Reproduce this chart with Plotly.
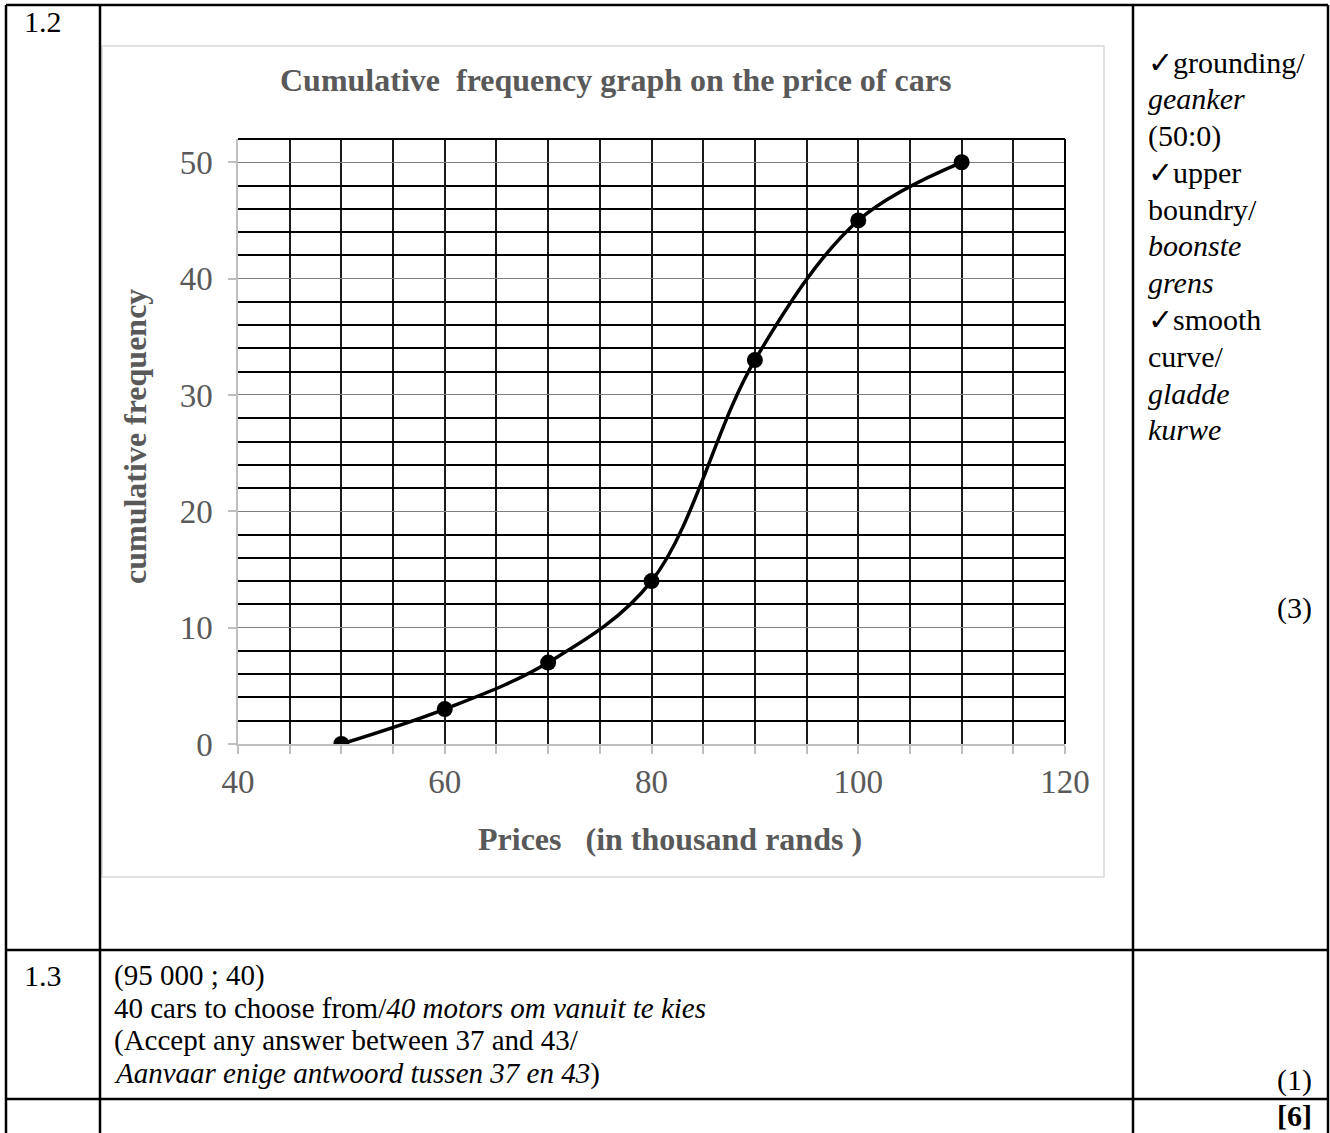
import plotly.graph_objects as go

# ---- data ----
prices = [50, 60, 70, 80, 90, 100, 110]
cum_freq = [0, 3, 7, 14, 33, 45, 50]
x_range = [40, 120]
y_range = [0, 52]

chart_title = "Cumulative\u00a0 frequency graph on the price of cars"
x_title = "Prices\u00a0\u00a0 (in thousand rands )"
y_title = "cumulative frequency"

marks_lines = ["\u2713grounding/", "<i>geanker</i>", "(50:0)", "\u2713upper", "boundry/",
               "<i>boonste</i>", "<i>grens</i>", "\u2713smooth", "curve/", "<i>gladde</i>", "<i>kurwe</i>"]
answer_lines = ["(95 000 ; 40)",
                "40 cars to choose from/<i>40 motors om vanuit te kies</i>",
                "(Accept any answer between 37 and 43/",
                "<i>Aanvaar enige antwoord tussen 37 en 43</i>)"]

W, H = 1330, 1133
def px(x): return x / W
def py(y): return 1 - y / H

SERIF = "Liberation Serif, Times New Roman, serif"
GRAY_TXT = "#595959"

fig = go.Figure()
fig.add_trace(go.Scatter(
    x=prices, y=cum_freq, mode="lines+markers",
    line=dict(color="black", width=3.5, shape="spline", smoothing=1.0),
    marker=dict(color="black", size=16),
    showlegend=False, hoverinfo="skip"))

fig.update_layout(
    width=W, height=H, autosize=False,
    margin=dict(l=0, r=0, t=0, b=0, pad=0, autoexpand=False),
    paper_bgcolor="white", plot_bgcolor="white",
    font=dict(family=SERIF, color="black"),
    xaxis=dict(domain=[px(238), px(1065)], range=x_range, tick0=40, dtick=20, automargin=False,
               showgrid=True, gridcolor="#1a1a1a", gridwidth=1.5,
               minor=dict(dtick=5, showgrid=True, gridcolor="#1a1a1a", gridwidth=1.5,
                          ticks="outside", ticklen=8, tickcolor="#bfbfbf", tickwidth=1.5),
               ticks="outside", ticklen=8, tickcolor="#bfbfbf", tickwidth=1.5,
               showline=True, linecolor="#bfbfbf", linewidth=1.5, zeroline=False,
               tickfont=dict(family=SERIF, size=33, color=GRAY_TXT), ticklabelstandoff=0),
    yaxis=dict(domain=[py(744), py(139)], range=y_range, tick0=0, dtick=10, automargin=False,
               showgrid=True, gridcolor="#808080", gridwidth=1.4,
               minor=dict(dtick=2, showgrid=True, gridcolor="black", gridwidth=2),
               ticks="outside", ticklen=8, tickcolor="#bfbfbf", tickwidth=1.5,
               showline=True, linecolor="#bfbfbf", linewidth=1.5, zeroline=False,
               tickfont=dict(family=SERIF, size=33, color=GRAY_TXT), ticklabelstandoff=9),
)

shapes = []
# chart frame
shapes.append(dict(type="rect", xref="paper", yref="paper", x0=px(102), x1=px(1104),
                   y0=py(877), y1=py(46), line=dict(color="#d9d9d9", width=1.5), layer="below"))
# top / right plot borders
shapes.append(dict(type="line", xref="x domain", yref="y domain", x0=0, x1=1, y0=1, y1=1,
                   line=dict(color="black", width=2)))
shapes.append(dict(type="line", xref="x domain", yref="y domain", x0=1, x1=1, y0=0, y1=1,
                   line=dict(color="black", width=2)))
# table lines
TL = dict(color="black", width=2.5)
for xv in [6, 100, 1133, 1328]:
    shapes.append(dict(type="line", xref="paper", yref="paper", x0=px(xv), x1=px(xv),
                       y0=py(5), y1=py(H + 5), line=TL))
for yv in [5, 950, 1099]:
    shapes.append(dict(type="line", xref="paper", yref="paper", x0=px(6), x1=px(1328),
                       y0=py(yv), y1=py(yv), line=TL))
fig.update_layout(shapes=shapes)

ann = []
def txt(t, x, y, size=29, xanchor="left", color="black", bold=False, angle=0):
    if bold:
        t = "<b>" + t + "</b>"
    ann.append(dict(text=t, x=px(x), y=py(y), xref="paper", yref="paper",
                    xanchor=xanchor, yanchor="middle", showarrow=False, textangle=angle,
                    font=dict(family=SERIF, size=size, color=color)))

txt(chart_title, 615, 80, size=32, xanchor="center", color=GRAY_TXT, bold=True)
txt(x_title, 670, 839, size=32, xanchor="center", color=GRAY_TXT, bold=True)
txt(y_title, 135, 437, size=32, xanchor="center", color=GRAY_TXT, bold=True, angle=-90)

txt("1.2", 22, 22, size=30)
txt("1.3", 22, 975, size=30)
for i, line in enumerate(marks_lines):
    txt(line, 1146, 62 + i * 36.8, size=30)
for i, line in enumerate(answer_lines):
    txt(line, 112, 975 + i * 32.7)
txt("(3)", 1314, 608, size=30, xanchor="right")
txt("(1)", 1314, 1080, size=30, xanchor="right")
txt("[6]", 1314, 1115, size=30, xanchor="right", bold=True)
fig.update_layout(annotations=ann)

fig.write_html("out.html", config={"displayModeBar": False},
               post_script="document.body.style.margin='0';")
